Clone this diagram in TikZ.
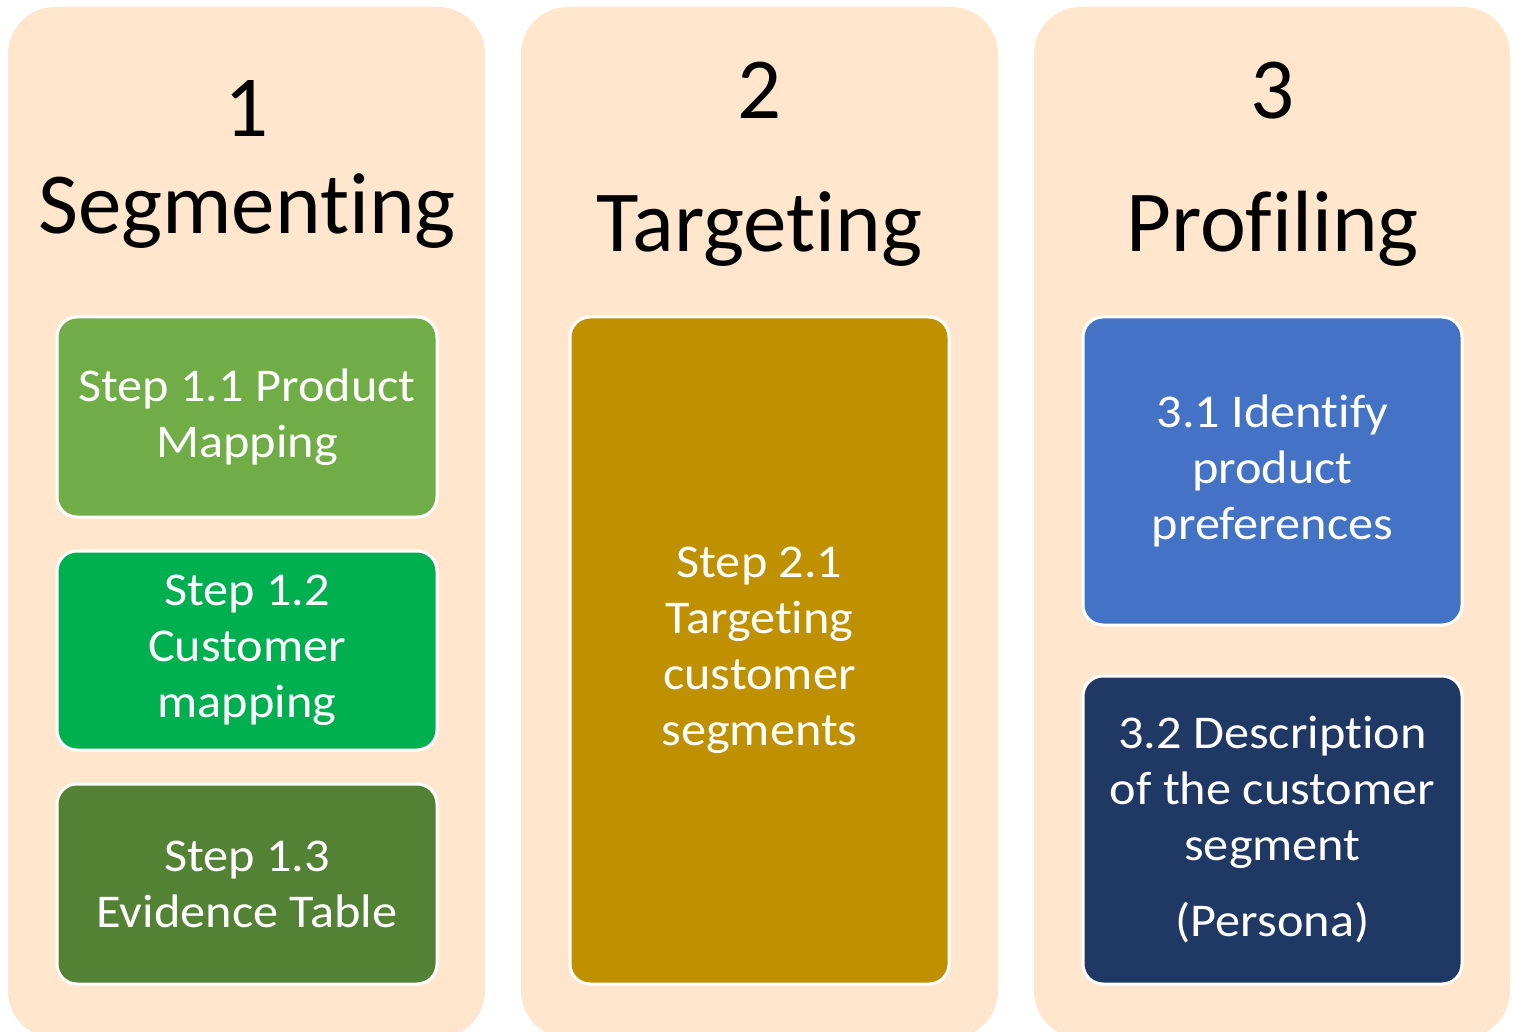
\documentclass[tikz,border=0pt]{standalone}
\usepackage{fontspec}
\setmainfont{Carlito}[Ligatures=NoCommon]
\newfontfamily\stepfont{Carlito}[Ligatures=NoCommon, FakeStretch=1.07]
\definecolor{peach}{HTML}{FFE6CC}
\definecolor{leafgreen}{HTML}{70AD47}
\definecolor{brightgreen}{HTML}{00B050}
\definecolor{darkgreen}{HTML}{548235}
\definecolor{gold}{HTML}{BF9000}
\definecolor{midblue}{HTML}{4472C4}
\definecolor{navy}{HTML}{203864}
\begin{document}
\begin{tikzpicture}[x=1pt,y=-1pt,
  column/.style={fill=peach, rounded corners=47pt},
  title/.style={anchor=base, font=\fontsize{87}{100}\selectfont, text=black},
  stepbox/.style={draw=white, line width=3pt, rounded corners=20pt,
    inner sep=0pt, align=center, text=white,
    font=\stepfont\fontsize{47}{56}\selectfont}
]
\useasboundingbox (0,0) rectangle (1513,1032);

% three stage panels
\fill[column] (8,7) rectangle (485,1038);
\fill[column] (521,7) rectangle (998,1038);
\fill[column] (1034,7) rectangle (1510,1038);

% stage headings
\node[title] (n1) at (247,137) {1};
\node[title] (t1) at (247,234) {Segmenting};
\node[title] (n2) at (759.5,119) {2};
\node[title] (t2) at (759.5,252) {Targeting};
\node[title] (n3) at (1272.5,119) {3};
\node[title] (t3) at (1272.5,252) {Profiling};

% stage 1 steps
\node[stepbox, fill=leafgreen, minimum width=380pt, minimum height=200pt]
  (s11) at (247,417) {Step 1.1 Product\\Mapping};
\node[stepbox, fill=brightgreen, minimum width=380pt, minimum height=199pt]
  (s12) at (247,650.5) {Step 1.2\\Customer\\mapping};
\node[stepbox, fill=darkgreen, minimum width=380pt, minimum height=200pt]
  (s13) at (247,884) {Step 1.3\\Evidence Table};

% stage 2 step
\node[stepbox, fill=gold, minimum width=379pt, minimum height=667pt]
  (s21) at (759.5,650.5) {Step 2.1\\Targeting\\customer\\segments};

% stage 3 steps
\node[stepbox, fill=midblue, minimum width=379pt, minimum height=308pt]
  (s31) at (1272.5,471) {3.1 Identify\\product\\preferences};
\node[stepbox, fill=navy, minimum width=379pt, minimum height=308pt]
  (s32) at (1272.5,830) {3.2 Description\\of the customer\\segment\\[20pt](Persona)};
\end{tikzpicture}
\end{document}
